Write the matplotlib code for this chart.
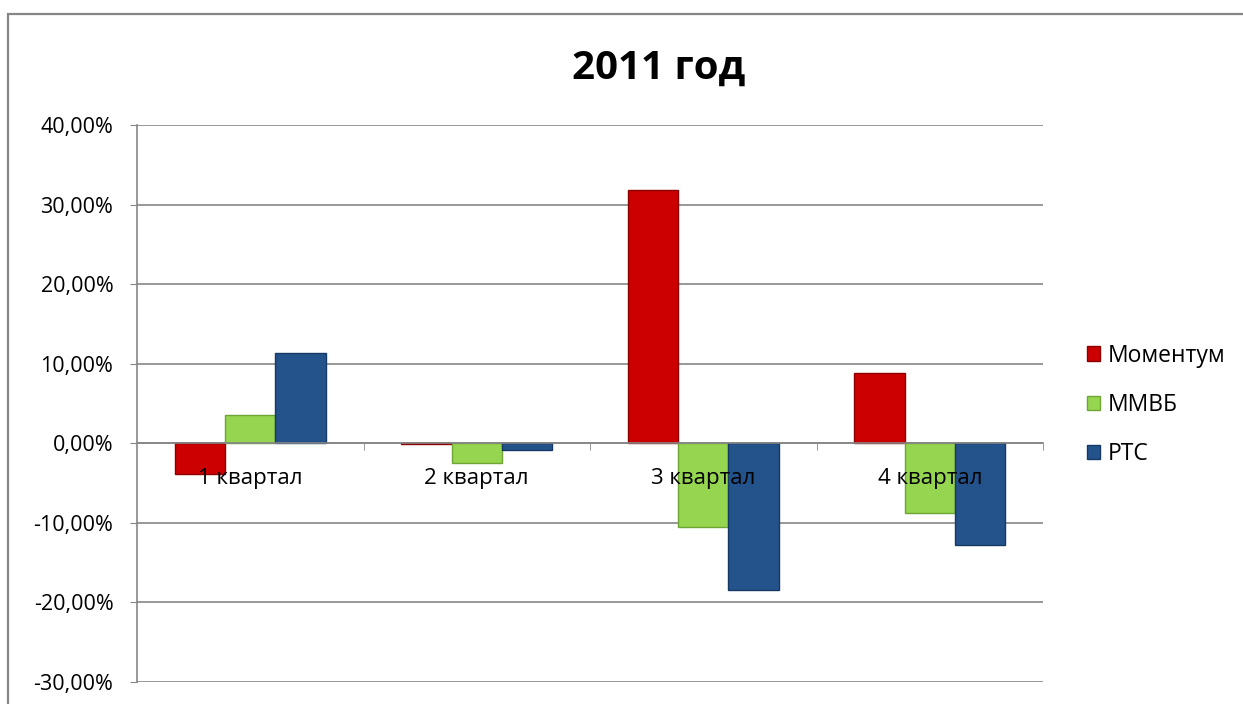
import numpy as np
import matplotlib
matplotlib.use("Agg")
import matplotlib.pyplot as plt
from matplotlib.patches import Rectangle
from matplotlib.ticker import FuncFormatter, FixedLocator

plt.rcParams["font.family"] = ["Open Sans", "DejaVu Sans"]

# данные
quarters = ["1 квартал", "2 квартал", "3 квартал", "4 квартал"]
series_names = ["Моментум", "ММВБ", "РТС"]
momentum = [-0.039, -0.001, 0.318, 0.088]
micex = [0.036, -0.025, -0.105, -0.087]
rts = [0.114, -0.009, -0.185, -0.128]
y_ticks = [-0.3, -0.2, -0.1, 0.0, 0.1, 0.2, 0.3, 0.4]

colors = ["#CC0000", "#96D550", "#24528A"]
edges = ["#8C0000", "#6FA535", "#163A66"]

fig = plt.figure(figsize=(12.43, 7.04), dpi=100)
fig.patch.set_facecolor("white")
ax = fig.add_axes([137 / 1243, 22 / 704, 906 / 1243, 557 / 704])

x = np.arange(len(quarters))
w = 0.222
for i, (vals, name) in enumerate(zip([momentum, micex, rts], series_names)):
    ax.bar(x + (i - 1) * w, vals, width=w, color=colors[i], edgecolor=edges[i],
           linewidth=1.0, label=name, zorder=3)

ax.set_xlim(-0.5, len(quarters) - 0.5)
ax.set_ylim(y_ticks[0], y_ticks[-1])
ax.set_yticks(y_ticks)
ax.yaxis.set_major_formatter(
    FuncFormatter(lambda v, _p: f"{v * 100:.2f}%".replace(".", ",")))
ax.tick_params(axis="y", length=5, color="#868686", labelsize=15.5, pad=12)
ax.grid(axis="y", color="#868686", linewidth=1.2, zorder=0)

ax.spines["top"].set_visible(False)
ax.spines["right"].set_visible(False)
ax.spines["left"].set_color("#868686")
ax.spines["left"].set_linewidth(1.2)
ax.spines["bottom"].set_position(("data", 0))
ax.spines["bottom"].set_color("#868686")
ax.spines["bottom"].set_linewidth(1.2)
ax.spines["bottom"].set_zorder(4)

# подписи кварталов поверх столбиков
ax.set_xticks([])
ax.xaxis.set_minor_locator(FixedLocator(np.arange(0.5, len(quarters) + 0.5, 1.0)))
ax.tick_params(axis="x", which="minor", length=5, direction="out", color="#868686")
for xi, q in zip(x, quarters):
    ax.annotate(q, xy=(xi, 0), xytext=(0, -25), textcoords="offset points",
                ha="center", va="center", fontsize=16, zorder=6)

fig.text(659 / 1243, 1 - 68 / 704, "2011 год", ha="center", va="center",
         fontsize=29, fontweight="bold")

leg = ax.legend(loc="center left", bbox_to_anchor=(1066 / 1243, 1 - 405 / 704),
                bbox_transform=fig.transFigure, frameon=False, fontsize=16.5,
                handlelength=0.6, handleheight=0.6, handletextpad=0.3,
                labelspacing=1.1)

fig.add_artist(Rectangle((8 / 1243, -0.1), 2, 0.1 + 690 / 704,
                         transform=fig.transFigure, fill=False,
                         edgecolor="#868686", linewidth=1.6))

fig.savefig("out.png", dpi=100)
